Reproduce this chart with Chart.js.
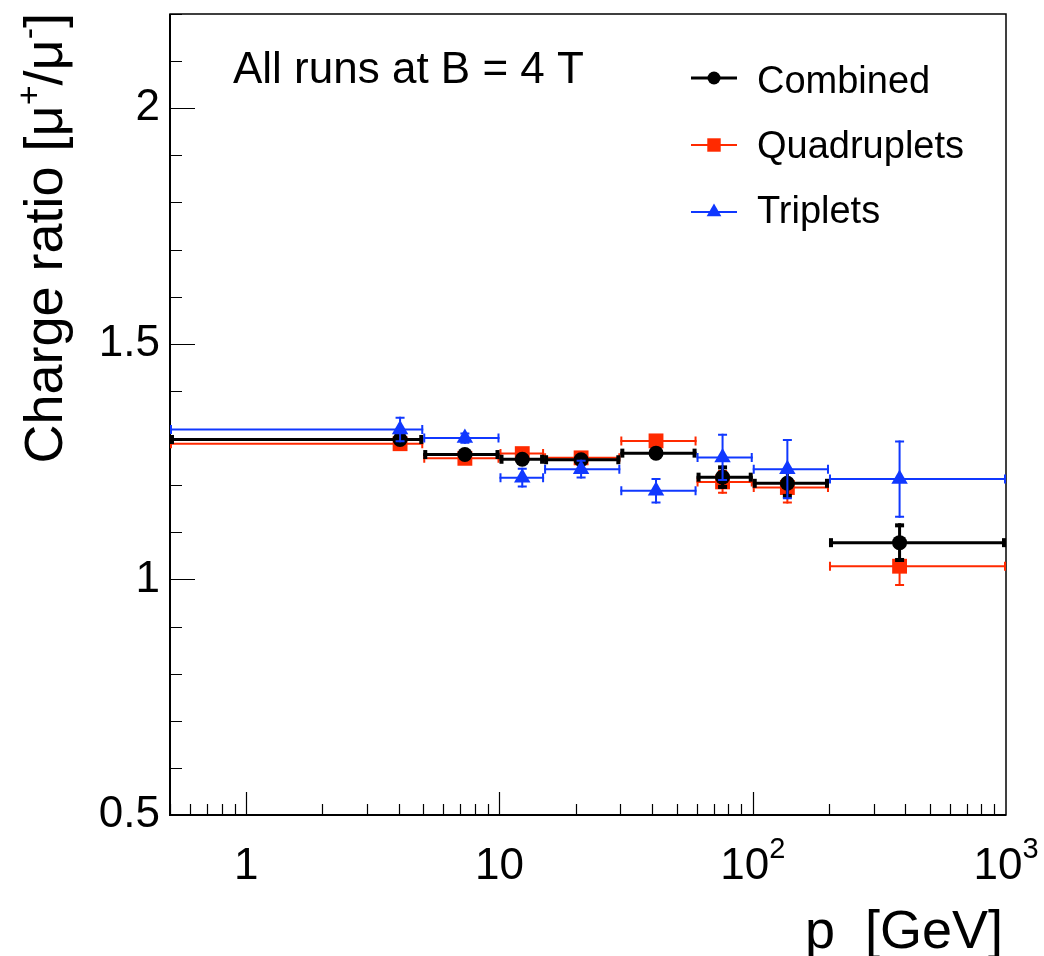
<!DOCTYPE html>
<html>
<head>
<meta charset="utf-8">
<script src="https://cdn.jsdelivr.net/npm/chart.js@4.4.1/dist/chart.umd.min.js"></script>
<style>
  html, body { margin: 0; padding: 0; background: #fff; }
  canvas { display: block; }
</style>
</head>
<body>
<canvas id="chart" width="1044" height="956"></canvas>
<script>
// momentum bins [GeV] and the point positions inside them
const binLow = [0.5, 5, 10, 15, 30, 60, 100, 200];
const binHigh = [5, 10, 15, 30, 60, 100, 200, 1000];
const pCenter = [4.05, 7.3, 12.3, 21, 41.5, 76, 137, 380];

// charge ratio per sample, with statistical errors
const combined = [1.297, 1.265, 1.255, 1.254, 1.268, 1.217, 1.204, 1.078];
const combinedErr = [0.008, 0.006, 0.007, 0.007, 0.008, 0.025, 0.031, 0.041];
const quadruplets = [1.288, 1.257, 1.267, 1.258, 1.294, 1.207, 1.195, 1.028];
const quadrupletsErr = [0.009, 0.007, 0.008, 0.008, 0.010, 0.025, 0.034, 0.042];
const triplets = [1.318, 1.300, 1.216, 1.234, 1.188, 1.259, 1.234, 1.213];
const tripletsErr = [0.027, 0.012, 0.021, 0.020, 0.027, 0.050, 0.064, 0.082];

// axis ticks: x labels are base + exponent
const xTickValues = [1, 10, 100, 1000];
const xTickBase = ["1", "10", "10", "10"];
const xTickExp = ["", "", "2", "3"];
const yTickValues = [0.5, 1, 1.5, 2];
const yTickLabels = ["0.5", "1", "1.5", "2"];

const FONT = "'Liberation Sans', Arial, Helvetica, sans-serif";
const BLACK = "#000000";
const RED = "#ff2a00";
const BLUE = "#1038ff";

function toPoints(vals) {
  return vals.map((v, i) => ({ x: pCenter[i], y: v }));
}

// error bars, drawn right before each dataset's markers
const errorBars = {
  id: "errorBars",
  beforeDatasetDraw(chart, args) {
    const ds = chart.data.datasets[args.index];
    const xs = chart.scales.x, ys = chart.scales.y;
    const ctx = chart.ctx;
    const thick = ds.barWidth;
    ctx.save();
    ctx.strokeStyle = ds.borderColor;
    ctx.fillStyle = ds.borderColor;
    ctx.lineWidth = thick;
    ds.data.forEach((pt, i) => {
      const xl = xs.getPixelForValue(binLow[i]);
      const xh = xs.getPixelForValue(binHigh[i]);
      const xc = xs.getPixelForValue(pt.x);
      const yc = ys.getPixelForValue(pt.y);
      const yt = ys.getPixelForValue(pt.y + ds.yErr[i]);
      const yb = ys.getPixelForValue(pt.y - ds.yErr[i]);
      ctx.beginPath();
      ctx.moveTo(xl, yc); ctx.lineTo(xh, yc);
      ctx.moveTo(xc, yt); ctx.lineTo(xc, yb);
      ctx.stroke();
      // end caps
      const c = 4.5;
      if (thick > 2) {
        ctx.fillRect(xl, yc - c, 4, 2 * c);
        ctx.fillRect(xh - 4, yc - c, 4, 2 * c);
        ctx.fillRect(xc - c, yt, 2 * c, 4);
        ctx.fillRect(xc - c, yb - 4, 2 * c, 4);
      } else {
        ctx.beginPath();
        ctx.moveTo(xl + 1, yc - c); ctx.lineTo(xl + 1, yc + c);
        ctx.moveTo(xh - 1, yc - c); ctx.lineTo(xh - 1, yc + c);
        ctx.moveTo(xc - c, yt + 1); ctx.lineTo(xc + c, yt + 1);
        ctx.moveTo(xc - c, yb - 1); ctx.lineTo(xc + c, yb - 1);
        ctx.stroke();
      }
    });
    ctx.restore();
  }
};

// frame with ROOT style inward ticks and the x labels
const frame = {
  id: "frame",
  beforeDatasetsDraw(chart) {
    const { ctx, chartArea: a } = chart;
    const xs = chart.scales.x, ys = chart.scales.y;
    ctx.save();
    ctx.strokeStyle = "#000";
    ctx.lineWidth = 1.5;
    ctx.strokeRect(a.left, a.top, a.right - a.left, a.bottom - a.top);
    ctx.lineWidth = 1.2;
    ctx.beginPath();
    for (let k = 5; k <= 22; k++) {
      const v = k / 10;
      const y = Math.round(ys.getPixelForValue(v)) + 0.5;
      const len = (k % 5 === 0) ? 25 : 12;
      ctx.moveTo(a.left, y); ctx.lineTo(a.left + len, y);
    }
    for (let dec = 0.1; dec < 1000; dec *= 10) {
      for (let m = 1; m <= 9; m++) {
        const v = Math.round(dec * m * 1000) / 1000;
        if (v < 0.5 || v > 1000) continue;
        const x = Math.round(xs.getPixelForValue(v)) + 0.5;
        const len = (m === 1) ? 23 : 11;
        ctx.moveTo(x, a.bottom); ctx.lineTo(x, a.bottom - len);
      }
    }
    ctx.stroke();
    ctx.lineWidth = 2;
    ctx.beginPath();
    ctx.moveTo(a.left, a.top); ctx.lineTo(a.left, a.bottom); ctx.lineTo(a.right, a.bottom);
    ctx.stroke();

    // x tick labels with raised exponents
    ctx.fillStyle = "#000";
    ctx.textBaseline = "alphabetic";
    ctx.textAlign = "left";
    const baseFont = "44px " + FONT, expFont = "29px " + FONT;
    xTickValues.forEach((v, i) => {
      ctx.font = baseFont;
      const wb = ctx.measureText(xTickBase[i]).width;
      ctx.font = expFont;
      const we = xTickExp[i] ? ctx.measureText(xTickExp[i]).width : 0;
      const x0 = xs.getPixelForValue(v) - (wb + we) / 2;
      ctx.font = baseFont;
      ctx.fillText(xTickBase[i], x0, 879);
      if (xTickExp[i]) {
        ctx.font = expFont;
        ctx.fillText(xTickExp[i], x0 + wb, 858);
      }
    });
    ctx.restore();
  }
};

// axis titles, label and legend
const texts = {
  id: "texts",
  afterDraw(chart) {
    const ctx = chart.ctx;
    ctx.save();
    ctx.fillStyle = "#000";

    // y title, rotated, written from its top end down
    ctx.save();
    ctx.translate(62, 13);
    ctx.rotate(-Math.PI / 2);
    const parts = [
      ["Charge ratio [\u03bc", 0], ["+", 1], ["/\u03bc", 0], ["-", 1], ["]", 0]
    ];
    const big = "54px " + FONT, small = "34px " + FONT;
    let total = 0;
    parts.forEach(([t, sup]) => { ctx.font = sup ? small : big; total += ctx.measureText(t).width; });
    let x = -total;
    ctx.textBaseline = "alphabetic";
    ctx.textAlign = "left";
    parts.forEach(([t, sup]) => {
      ctx.font = sup ? small : big;
      ctx.fillText(t, x, sup ? -22 : 0);
      x += ctx.measureText(t).width;
    });
    ctx.restore();

    // x title
    ctx.font = "54px " + FONT;
    ctx.textAlign = "right";
    ctx.fillText("p  [GeV]", 1003, 948);

    // label
    ctx.font = "44px " + FONT;
    ctx.textAlign = "left";
    ctx.fillText("All runs at B = 4 T", 233, 83);

    // legend
    const entries = [
      [chart.data.datasets[0], 78, 93],
      [chart.data.datasets[1], 145, 158],
      [chart.data.datasets[2], 212, 223]
    ];
    entries.forEach(([ds, ly, tb]) => {
      ctx.strokeStyle = ds.borderColor;
      ctx.fillStyle = ds.borderColor;
      ctx.lineWidth = ds.barWidth;
      ctx.beginPath();
      ctx.moveTo(691, ly); ctx.lineTo(737, ly);
      ctx.stroke();
      Chart.helpers.drawPoint(ctx, {
        pointStyle: ds.pointStyle, radius: ds.legendRadius, rotation: 0, borderWidth: 0
      }, 714, ly);
      ctx.fillStyle = "#000";
      ctx.font = "38px " + FONT;
      ctx.fillText(ds.label, 757, tb);
    });
    ctx.restore();
  }
};

new Chart(document.getElementById("chart"), {
  type: "scatter",
  data: {
    datasets: [
      {
        label: "Combined", data: toPoints(combined), yErr: combinedErr,
        borderColor: BLACK, backgroundColor: BLACK, pointStyle: "circle",
        pointRadius: 7.5, pointBorderWidth: 0, barWidth: 3, legendRadius: 6.5, order: 2
      },
      {
        label: "Quadruplets", data: toPoints(quadruplets), yErr: quadrupletsErr,
        borderColor: RED, backgroundColor: RED, pointStyle: "rect",
        pointRadius: 10.5, pointBorderWidth: 0, barWidth: 2, legendRadius: 9.5, order: 3
      },
      {
        label: "Triplets", data: toPoints(triplets), yErr: tripletsErr,
        borderColor: BLUE, backgroundColor: BLUE, pointStyle: "triangle",
        pointRadius: 9.5, pointBorderWidth: 0, barWidth: 2, legendRadius: 8.5, order: 1
      }
    ]
  },
  options: {
    responsive: false,
    devicePixelRatio: 1,
    animation: false,
    layout: { padding: { left: 0, right: 38, top: 14, bottom: 0 } },
    plugins: { legend: { display: false }, tooltip: { enabled: false } },
    scales: {
      x: {
        type: "logarithmic", min: 0.5, max: 1000,
        grid: { display: false, drawTicks: false }, border: { display: false },
        afterBuildTicks: (s) => { s.ticks = xTickValues.map(v => ({ value: v })); },
        afterFit: (s) => { s.height = 141; s.paddingLeft = 0; s.paddingRight = 0; },
        ticks: { display: false, autoSkip: false, maxRotation: 0 }
      },
      y: {
        min: 0.5, max: 2.2,
        grid: { display: false, drawTicks: false }, border: { display: false },
        afterBuildTicks: (s) => { s.ticks = yTickValues.map(v => ({ value: v })); },
        afterFit: (s) => { s.width = 170; s.paddingTop = 0; s.paddingBottom = 0; },
        ticks: {
          autoSkip: false, padding: 10, color: "#000",
          font: { family: FONT, size: 44 },
          callback: (v, i) => yTickLabels[i]
        }
      }
    }
  },
  plugins: [frame, errorBars, texts]
});
</script>
</body>
</html>
